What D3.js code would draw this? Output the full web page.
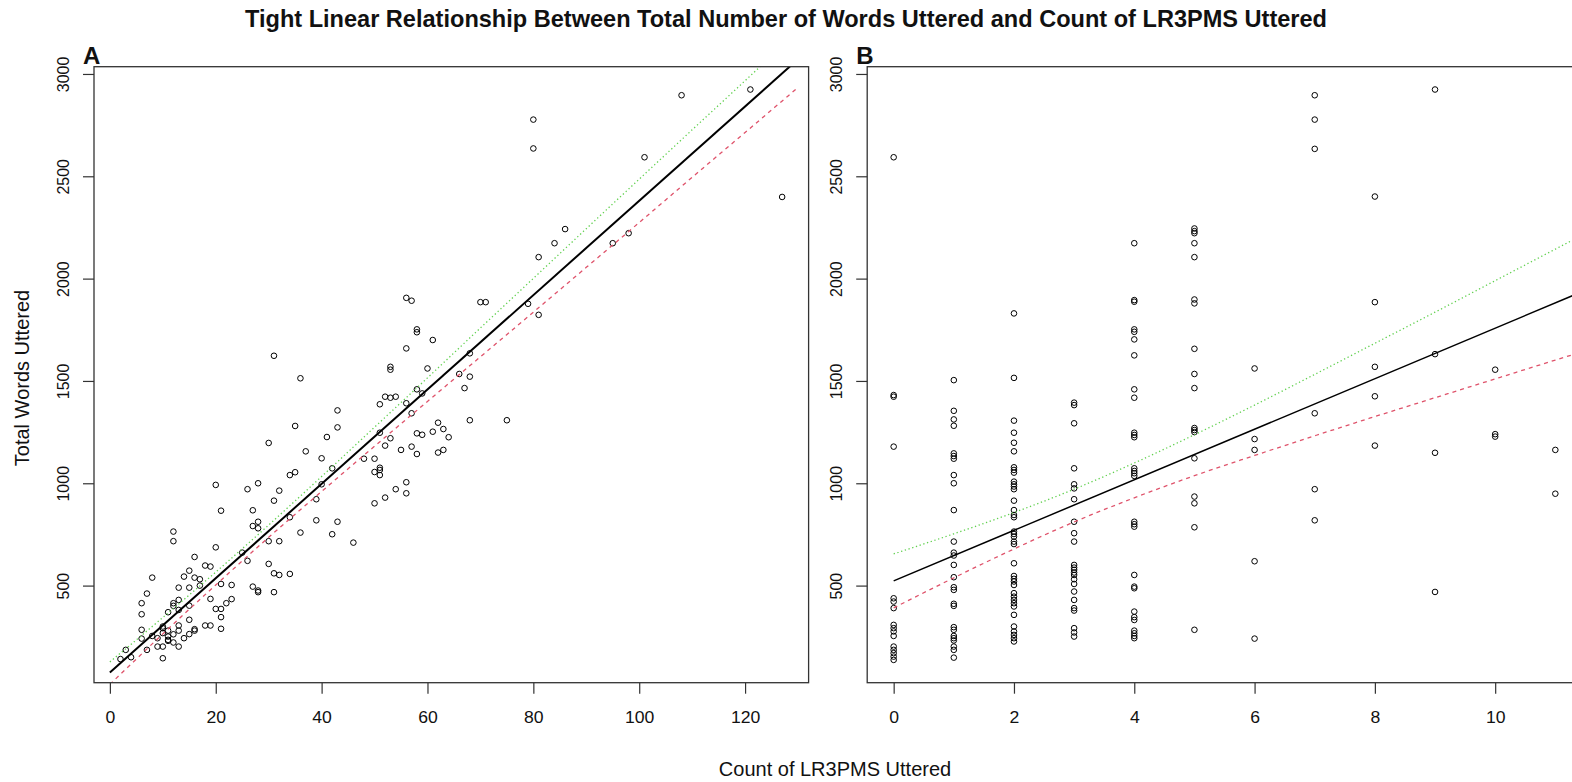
<!DOCTYPE html>
<html>
<head>
<meta charset="utf-8">
<script src="https://cdn.jsdelivr.net/npm/d3@7"></script>
<style>
  body { margin: 0; background: #fff; }
  svg { display: block; }
  text { font-family: "Liberation Sans", Arial, sans-serif; fill: #111; }
</style>
</head>
<body>
<svg id="chart" width="1572" height="782"></svg>
<script>
// ---- Panel A: count of LR3PMS (0-127) vs total words ----
const countA = [108,121,80,80,101,127,86,98,84,95,81,56,57,70,71,79,81,58,58,61,56,68,31,
  53,53,60,66,68,36,67,58,59,52,53,54,56,51,43,57,68,75,62,35,43,63,61,51,58,59,41,64,53,30,52,57,37,55,63,62,58,40,50,48,42,51,51,35,50,34,51,56,28,40,20,26,32,54,56,52,39,31,50,27,21,34,39,28,43,27,28,12,36,42,12,30,32,46,20,25,16,26,30,18,19,15,31,34,32,14,8,16,17,21,23,17,27,15,13,28,28,31,7,19,23,13,6,12,22,15,12,21,20,13,11,6,21,15,13,18,19,10,21,16,6,13,11,16,10,15,8,11,6,9,14,11,9,10,13,3,7,4,10,2,11,12,10,12];
const wordsA = [2896,2924,2777,2636,2593,2399,2242,2222,2173,2173,2105,1906,1892,1885,1885,1877,1823,1752,1738,1700,1659,1635,1623,
  1569,1555,1561,1534,1521,1513,1465,1459,1439,1423,1418,1423,1391,1386,1356,1342,1308,1308,1296,1280,1273,1265,1252,1247,1244,1237,1226,1225,1220,1197,1184,1179,1156,1163,1163,1150,1143,1122,1120,1120,1073,1076,1065,1054,1055,1040,1040,1005,1000,995,992,971,964,971,951,930,922,915,902,868,866,834,819,812,812,791,780,764,759,751,717,717,717,710,687,661,640,621,606,598,593,573,560,557,552,544,539,539,531,508,503,500,495,490,490,476,468,468,461,435,434,430,414,414,414,402,401,386,386,381,370,360,346,333,305,305,305,300,289,287,284,280,280,280,268,263,254,251,241,243,243,235,202,202,202,186,186,150,145,141,230,262,292,222];

// fitted line and its upper / lower bands, panel A
const fitA = [{x: 0, y: 75}, {x: 130, y: 3072}];
const bandXA = [0,10,20,30,40,50,60,70,80,90,100,110,120,130];
const upperA = [127,344,566,796,1033,1274,1515,1759,2001,2244,2486,2727,2967,3209];
const lowerA = [17,264,503,736,960,1181,1400,1618,1836,2055,2274,2495,2714,2934];

// ---- Panel B: count of LR3PMS (0-11) vs total words ----
const countLevelsB = [0,1,2,3,4,5,6,7,8,9,10,11];
const wordsAtCountB = [
  [2593,1431,1423,1179,438,422,390,308,292,276,254,202,186,170,153,137],
  [1504,1354,1312,1281,1146,1133,1120,1040,1000,869,715,661,647,601,541,492,479,411,401,297,284,254,243,232,202,186,148],
  [1830,1515,1306,1247,1198,1156,1078,1065,1052,1008,995,984,971,915,869,845,834,764,752,739,715,703,609,547,533,520,503,463,446,430,414,398,357,300,276,259,243,227],
  [1394,1382,1293,1073,995,975,922,812,756,715,601,588,577,564,552,531,508,471,430,390,378,292,271,251],
  [2173,1895,1887,1752,1740,1703,1625,1459,1418,1247,1236,1225,1073,1060,1049,1036,812,800,788,552,495,487,373,346,332,280,267,254,243],
  [2245,2232,2222,2173,2105,1898,1879,1657,1534,1465,1270,1260,1250,1122,935,902,785,284],
  [1561,1216,1163,619,241],
  [2896,2777,2634,1342,971,819],
  [2401,1885,1569,1425,1184],
  [2924,1631,1149,469],
  [1555,1240,1228],
  [1163,949]
];

const fitB = [{x: 0, y: 523}, {x: 12, y: 2005}];
const bandXB = [0,1,2,3,4,5,6,7,8,9,10,11,12];
const upperB = [655,753,857,971,1099,1237,1382,1532,1684,1836,1990,2144,2298];
const lowerB = [391,538,679,811,929,1037,1136,1232,1326,1418,1510,1602,1692];

// axis ticks and labels
const xTicksA = [0,20,40,60,80,100,120];
const xTicksB = [0,2,4,6,8,10];
const yTicks = [500,1000,1500,2000,2500,3000];
const titleText = "Tight Linear Relationship Between Total Number of Words Uttered and Count of LR3PMS Uttered";
const xTitle = "Count of LR3PMS Uttered";
const yTitle = "Total Words Uttered";

// ---- layout ----
const svg = d3.select("#chart");
const plotTop = 66.7, plotBottom = 682.7, plotWidth = 714.6;
const panels = [
  {id: "A", left: 94,    xs: countA, ys: wordsA, ticks: xTicksA, fit: fitA, bx: bandXA, up: upperA, lo: lowerA, fitW: 2},
  {id: "B", left: 867.2, xs: wordsAtCountB.flatMap((w, i) => w.map(() => countLevelsB[i])),
   ys: wordsAtCountB.flat(), ticks: xTicksB, fit: fitB, bx: bandXB, up: upperB, lo: lowerB, fitW: 1.5}
];

// R-style axis range: data extent padded by 4% on each side
function padded(ext) {
  const r = ext[1] - ext[0];
  return [ext[0] - 0.04 * r, ext[1] + 0.04 * r];
}
const yDomain = padded(d3.extent(wordsA.concat(wordsAtCountB.flat())));
const stretch = 1.1;

function stretchText(sel) {
  sel.each(function () {
    const w = this.getComputedTextLength();
    d3.select(this).attr("textLength", w * stretch).attr("lengthAdjust", "spacingAndGlyphs");
  });
}

panels.forEach(p => {
  const x = d3.scaleLinear().domain(padded(d3.extent(p.xs))).range([p.left, p.left + plotWidth]);
  const y = d3.scaleLinear().domain(yDomain).range([plotBottom, plotTop]);
  const g = svg.append("g");

  const clipId = "clip" + p.id;
  svg.append("clipPath").attr("id", clipId)
    .append("rect").attr("x", p.left).attr("y", plotTop)
    .attr("width", plotWidth).attr("height", plotBottom - plotTop);

  // x axis
  const xAxis = g.append("g").attr("transform", `translate(0,${plotBottom})`)
    .call(d3.axisBottom(x).tickValues(p.ticks).tickFormat(d3.format("d")).tickSize(11).tickPadding(18));
  xAxis.select(".domain").remove();
  xAxis.selectAll("line").attr("stroke", "#333").attr("stroke-width", 1.2);
  xAxis.selectAll("text").attr("font-size", 16).attr("fill", "#111").attr("dy", "0.71em").call(stretchText);

  // y axis with labels parallel to the axis
  const yAxis = g.append("g").attr("transform", `translate(${p.left},0)`)
    .call(d3.axisLeft(y).tickValues(yTicks).tickFormat(d3.format("d")).tickSize(11));
  yAxis.select(".domain").remove();
  yAxis.selectAll("line").attr("stroke", "#333").attr("stroke-width", 1.2);
  yAxis.selectAll("text")
    .attr("x", null).attr("dy", "0.36em").attr("text-anchor", "middle")
    .attr("transform", "translate(-31,0) rotate(-90)")
    .attr("font-size", 16).attr("fill", "#111");

  // points
  g.append("g").selectAll("circle")
    .data(p.xs.map((v, i) => [v, p.ys[i]]))
    .join("circle")
    .attr("cx", d => x(d[0])).attr("cy", d => y(d[1]))
    .attr("r", 2.8).attr("fill", "none").attr("stroke", "#000").attr("stroke-width", 1);

  // fit and bands
  const lines = g.append("g").attr("clip-path", `url(#${clipId})`);
  const band = d3.line().x(d => x(d[0])).y(d => y(d[1])).curve(d3.curveMonotoneX);
  lines.append("path").attr("d", band(p.bx.map((v, i) => [v, p.up[i]])))
    .attr("fill", "none").attr("stroke", "#61D04F").attr("stroke-width", 1.3).attr("stroke-dasharray", "1.3,2.6");
  lines.append("path").attr("d", band(p.bx.map((v, i) => [v, p.lo[i]])))
    .attr("fill", "none").attr("stroke", "#DF536B").attr("stroke-width", 1.3).attr("stroke-dasharray", "4,4");
  lines.append("path").attr("d", d3.line().x(d => x(d.x)).y(d => y(d.y))(p.fit))
    .attr("fill", "none").attr("stroke", "#000").attr("stroke-width", p.fitW);

  // frame
  g.append("rect").attr("x", p.left).attr("y", plotTop)
    .attr("width", plotWidth).attr("height", plotBottom - plotTop)
    .attr("fill", "none").attr("stroke", "#333").attr("stroke-width", 1.3);

  // panel letter
  g.append("text").attr("x", p.left - 11).attr("y", 64)
    .attr("font-size", 24).attr("font-weight", "bold").attr("fill", "#000").text(p.id);
});

// titles
svg.append("text").attr("x", 786).attr("y", 26.5).attr("text-anchor", "middle")
  .attr("font-size", 24).attr("font-weight", "bold").attr("fill", "#000")
  .attr("textLength", 1082).attr("lengthAdjust", "spacingAndGlyphs").text(titleText);

svg.append("text").attr("x", 835).attr("y", 776).attr("text-anchor", "middle")
  .attr("font-size", 20).text(xTitle);

svg.append("text").attr("transform", "translate(29,378) rotate(-90)").attr("text-anchor", "middle")
  .attr("font-size", 20).text(yTitle);
</script>
</body>
</html>
